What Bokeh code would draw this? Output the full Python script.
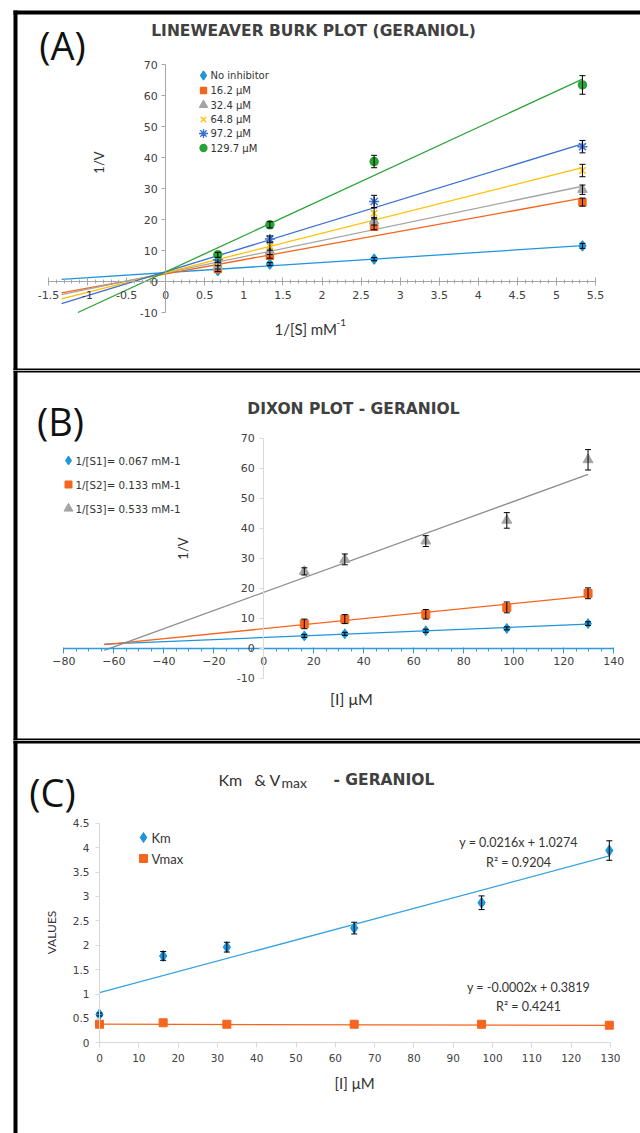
import numpy as np
from bokeh.plotting import figure
from bokeh.layouts import column
from bokeh.models import Range1d, LinearAxis, SingleIntervalTicker, NumeralTickFormatter
from bokeh.core.properties import value
from bokeh.embed import file_html
from bokeh.resources import INLINE

# ---------------- data: panel A (Lineweaver-Burk) ----------------
A_X = [0.667, 1.333, 2.667, 5.333]
A_NAMES = ["No inhibitor", "16.2 μM", "32.4 μM", "64.8 μM", "97.2 μM", "129.7 μM"]
A_NO_INH = [3.5, 5.6, 7.2, 11.5]
A_I16 = [4.0, 8.3, 17.7, 25.6]
A_I32 = [4.8, 9.7, 19.4, 29.6]
A_I65 = [5.9, 11.3, 22.0, 35.8]
A_I97 = [7.0, 13.7, 25.8, 43.5]
A_I130 = [8.6, 18.3, 38.7, 63.4]
A_ERR_NO_INH = [0.5, 0.5, 0.5, 0.8]
A_ERR_I16 = [0.8, 0.8, 1.0, 1.3]
A_ERR_I32 = [0.8, 1.0, 1.2, 1.5]
A_ERR_I65 = [0.8, 1.2, 1.8, 2.0]
A_ERR_I97 = [0.8, 1.0, 2.0, 2.0]
A_ERR_I130 = [0.8, 1.0, 2.0, 3.0]
A_XLIM = (-1.5, 5.5)
A_YLIM = (-10, 70)
A_BACKCAST = 2.0

# ---------------- data: panel B (Dixon) ----------------
B_X = [16.2, 32.4, 64.8, 97.2, 129.7]
B_NAMES = ["1/[S1]= 0.067 mM-1", "1/[S2]= 0.133 mM-1", "1/[S3]= 0.533 mM-1"]
B_S1 = [4.1, 4.8, 5.8, 6.6, 8.2]
B_S2 = [8.1, 9.7, 11.3, 13.6, 18.3]
B_S3 = [25.6, 29.6, 35.7, 42.6, 62.8]
B_ERR_S1 = [0.5, 0.5, 0.5, 0.5, 0.6]
B_ERR_S2 = [1.6, 1.5, 1.6, 1.8, 1.8]
B_ERR_S3 = [1.2, 1.8, 1.8, 2.6, 3.4]
B_XLIM = (-80, 140)
B_YLIM = (-10, 70)
B_BACKCAST = 80.0

# ---------------- data: panel C (Km & Vmax) ----------------
C_X = [0, 16.2, 32.4, 64.8, 97.2, 129.7]
C_NAMES = ["Km", "Vmax"]
C_KM = [0.58, 1.78, 1.96, 2.35, 2.87, 3.94]
C_KM_ERR = [0.03, 0.09, 0.1, 0.12, 0.14, 0.2]
C_VMAX = [0.38, 0.41, 0.38, 0.38, 0.38, 0.36]
C_KM_FIT = (0.0216, 1.0274)
C_VMAX_FIT = (-0.0002, 0.3819)
C_KM_EQ = ["y = 0.0216x + 1.0274", "R² = 0.9204"]
C_VMAX_EQ = ["y = -0.0002x + 0.3819", "R² = 0.4241"]
C_XLIM = (0, 130)
C_YLIM = (0, 4.5)

# ---------------- styles ----------------
BLUE = "#1E96DC"
ORANGE = "#F5651E"
GRAY = "#A5A5A5"
YELLOW = "#FFC000"
DBLUE = "#3B6FD4"
GREEN = "#2AA236"
TXT = "#333333"
TICK = "#404040"
AXIS = "#A6A6A6"
W = 640


def panel(H, xa, ya):
    px0, xv0, px1, xv1 = xa
    py0, yv0, py1, yv1 = ya
    fx = lambda px: xv0 + (px - px0) * (xv1 - xv0) / (px1 - px0)
    fy = lambda py: yv0 + (py - py0) * (yv1 - yv0) / (py1 - py0)
    p = figure(width=W, height=H, x_range=Range1d(fx(0), fx(W)), y_range=Range1d(fy(H), fy(0)),
               x_axis_type=None, y_axis_type=None, toolbar_location=None,
               output_backend="svg", min_border=0, outline_line_color=None)
    p.background_fill_color = "white"
    p.border_fill_color = "white"
    return p, fx, fy


def border(p, fx, fy, boxes):
    for (l, t, r, b) in boxes:
        p.quad(left=[fx(l)], right=[fx(r)], top=[fy(t)], bottom=[fy(b)],
               fill_color="black", line_color=None)


def txt(p, x, y, s, size, font="Lato", color=TXT, align="left", style="normal", angle=0.0):
    p.text(x=[x], y=[y], text=[s], text_font=value(font), text_font_size=f"{size}px",
           text_color=color, text_align=align, text_baseline="middle",
           text_font_style=style, angle=angle)


def errbars(p, x, y, e, cap=6):
    x = np.asarray(x, float); y = np.asarray(y, float); e = np.asarray(e, float)
    p.segment(x0=x, y0=y - e, x1=x, y1=y + e, line_color="black", line_width=1)
    p.scatter(np.concatenate([x, x]), np.concatenate([y - e, y + e]), marker="dash",
              size=cap, line_color="black", line_width=1)


def axes(p, xlim, ylim, xint, xminor, yint, xcol, ycol, fsize, xfmt=None,
         x_in=4, x_out=4, xm_in=2, xm_out=2, x_stand=5, y_stand=4, xw=1):
    xa = LinearAxis(fixed_location=0, bounds=xlim,
                    ticker=SingleIntervalTicker(interval=xint, num_minor_ticks=xminor))
    xa.axis_line_color = xcol
    xa.axis_line_width = xw
    xa.major_tick_line_color = xcol
    xa.minor_tick_line_color = xcol
    xa.major_tick_in = x_in
    xa.major_tick_out = x_out
    xa.minor_tick_in = xm_in
    xa.minor_tick_out = xm_out
    xa.major_label_standoff = x_stand
    xa.major_label_text_font = "DejaVu Sans"
    xa.major_label_text_font_size = f"{fsize}px"
    xa.major_label_text_color = TICK
    if xfmt:
        xa.formatter = NumeralTickFormatter(format=xfmt)
    p.add_layout(xa, "below")
    ya = LinearAxis(fixed_location=0, bounds=ylim,
                    ticker=SingleIntervalTicker(interval=yint, num_minor_ticks=0))
    ya.axis_line_color = ycol
    ya.major_tick_line_color = ycol
    ya.major_tick_in = 0
    ya.major_tick_out = 4
    ya.major_label_standoff = y_stand
    ya.major_label_text_font = "DejaVu Sans"
    ya.major_label_text_font_size = f"{fsize}px"
    ya.major_label_text_color = TICK
    ya.formatter = NumeralTickFormatter(format="0.[0]")
    p.add_layout(ya, "left")


def fitline(x, y, back, ymin=None):
    m, b = np.polyfit(np.asarray(x, float), np.asarray(y, float), 1)
    x0 = x[0] - back
    if ymin is not None and m * x0 + b < ymin:
        x0 = (ymin - b) / m
    xs = np.array([x0, x[-1]])
    return xs, m * xs + b


# ================= Panel A =================
pA, ax, ay = panel(370, (48, A_XLIM[0], 595, A_XLIM[1]), (64, A_YLIM[1], 312, A_YLIM[0]))
border(pA, ax, ay, [(13, 10, 640, 14), (13, 10, 17, 370), (13, 368, 640, 370)])
axes(pA, A_XLIM, A_YLIM, 0.5, 5, 10, AXIS, AXIS, 11, xfmt="0.[0]")

A_SERIES = [
    (A_NO_INH, A_ERR_NO_INH, BLUE, "diamond", 10),
    (A_I16, A_ERR_I16, ORANGE, "square", 7),
    (A_I32, A_ERR_I32, GRAY, "triangle", 9),
    (A_I65, A_ERR_I65, YELLOW, "x", 9),
    (A_I97, A_ERR_I97, DBLUE, "asterisk", 10),
    (A_I130, A_ERR_I130, GREEN, "circle", 8),
]
for ys, es, col, mk, sz in A_SERIES:
    lx, ly = fitline(A_X, ys, A_BACKCAST, ymin=A_YLIM[0])
    pA.line(lx, ly, line_color=col, line_width=1.3)
for ys, es, col, mk, sz in A_SERIES:
    pA.scatter(A_X, ys, marker=mk, size=sz, fill_color=col, line_color=col, line_width=1.5)
    errbars(pA, A_X, ys, es)

txt(pA, ax(62), ay(44), "(A)", 38, font="Open Sans", align="center", color="#111111")
txt(pA, ax(313), ay(30), "LINEWEAVER BURK PLOT (GERANIOL)", 15.5, font="DejaVu Sans",
    style="bold", align="center", color="#404040")
txt(pA, ax(98), ay(162), "1/V", 13, angle=np.pi / 2, align="center")
txt(pA, ax(274), ay(328), "1/[S] mM", 15)
txt(pA, ax(336), ay(322), "-1", 10)
legA_y = [75, 90, 104.5, 119, 133, 147.5]
for (ys, es, col, mk, sz), name, ly in zip(A_SERIES, A_NAMES, legA_y):
    pA.scatter([ax(203)], [ay(ly)], marker=mk, size=sz - 1, fill_color=col, line_color=col, line_width=1.3)
    txt(pA, ax(210), ay(ly), name, 10, font="DejaVu Sans")

# ================= Panel B =================
pB, bx, by = panel(370, (63.3, B_XLIM[0], 613.3, B_XLIM[1]), (67.7, B_YLIM[1], 307.7, B_YLIM[0]))
border(pB, bx, by, [(13, 0, 640, 2), (13, 0, 17, 370), (13, 368, 640, 370)])
axes(pB, B_XLIM, B_YLIM, 20, 4, 10, "#2E9BDA", "#D9D9D9", 11,
     x_in=1, x_out=5, xm_in=0, xm_out=3, x_stand=4, y_stand=5, xw=1.5)

B_SERIES = [
    (B_S1, B_ERR_S1, BLUE, "diamond", 10, BLUE),
    (B_S2, B_ERR_S2, ORANGE, "square", 8, ORANGE),
    (B_S3, B_ERR_S3, GRAY, "triangle", 10, "#8C8C8C"),
]
for ys, es, col, mk, sz, lcol in B_SERIES:
    lx, ly = fitline(B_X, ys, B_BACKCAST)
    pB.line(lx, ly, line_color=lcol, line_width=1.3)
for ys, es, col, mk, sz, lcol in B_SERIES:
    pB.scatter(B_X, ys, marker=mk, size=sz, fill_color=col, line_color=col)
    errbars(pB, B_X, ys, es)

txt(pB, bx(60), by(50), "(B)", 38, font="Open Sans", align="center", color="#111111")
txt(pB, bx(353), by(38), "DIXON PLOT - GERANIOL", 15.5, font="DejaVu Sans", style="bold",
    align="center", color="#404040")
txt(pB, bx(182), by(178), "1/V", 13, angle=np.pi / 2, align="center")
txt(pB, bx(351), by(328), "[I] μM", 16, align="center")
legB_y = [90, 114, 138]
for (ys, es, col, mk, sz, lcol), name, ly in zip(B_SERIES, B_NAMES, legB_y):
    pB.scatter([bx(68)], [by(ly)], marker=mk, size=sz - 1, fill_color=col, line_color=col)
    txt(pB, bx(75), by(ly), name, 10.3, font="DejaVu Sans")

# ================= Panel C =================
pC, cx, cy = panel(393, (99, C_XLIM[0], 610, C_XLIM[1]), (302.3, C_YLIM[0], 82.7, C_YLIM[1]))
border(pC, cx, cy, [(13, 0, 640, 3), (13, 0, 17, 393)])
axes(pC, C_XLIM, C_YLIM, 10, 0, 0.5, "#D9D9D9", "#D9D9D9", 10.5,
     x_in=0, x_out=5, xm_in=0, xm_out=0, x_stand=6, y_stand=6)

xs_fit = np.array([C_X[0], C_X[-1]], float)
pC.line(xs_fit, C_KM_FIT[0] * xs_fit + C_KM_FIT[1], line_color="#36A3E0", line_width=1.3)
pC.line(xs_fit, C_VMAX_FIT[0] * xs_fit + C_VMAX_FIT[1], line_color=ORANGE, line_width=1.3)
pC.scatter(C_X, C_KM, marker="diamond", size=11, fill_color=BLUE, line_color=BLUE)
errbars(pC, C_X, C_KM, C_KM_ERR)
pC.scatter(C_X, C_VMAX, marker="square", size=8, fill_color=ORANGE, line_color=ORANGE)

txt(pC, cx(52), cy(51), "(C)", 38, font="Open Sans", align="center", color="#111111")
txt(pC, cx(218), cy(39), "Km", 16)
txt(pC, cx(254), cy(39), "& V", 16)
txt(pC, cx(281), cy(42), "max", 14)
txt(pC, cx(333), cy(39), "- GERANIOL", 15.5, font="DejaVu Sans", style="bold", color="#404040")
txt(pC, cx(51), cy(192), "VALUES", 12, angle=np.pi / 2, align="center")
txt(pC, cx(356), cy(342), "[I]  μM", 15, align="center")
txt(pC, cx(518), cy(102), C_KM_EQ[0], 12.5, align="center")
txt(pC, cx(518), cy(122), C_KM_EQ[1], 12.5, align="center")
txt(pC, cx(528), cy(247), C_VMAX_EQ[0], 12.5, align="center")
txt(pC, cx(528), cy(266), C_VMAX_EQ[1], 12.5, align="center")
pC.scatter([cx(143)], [cy(97)], marker="diamond", size=10, fill_color=BLUE, line_color=BLUE)
txt(pC, cx(151), cy(97), C_NAMES[0], 13)
pC.scatter([cx(143)], [cy(118)], marker="square", size=8, fill_color=ORANGE, line_color=ORANGE)
txt(pC, cx(151), cy(118), C_NAMES[1], 13)

layout = column(pA, pB, pC, spacing=0)
open("out.html", "w").write(file_html(layout, INLINE))
